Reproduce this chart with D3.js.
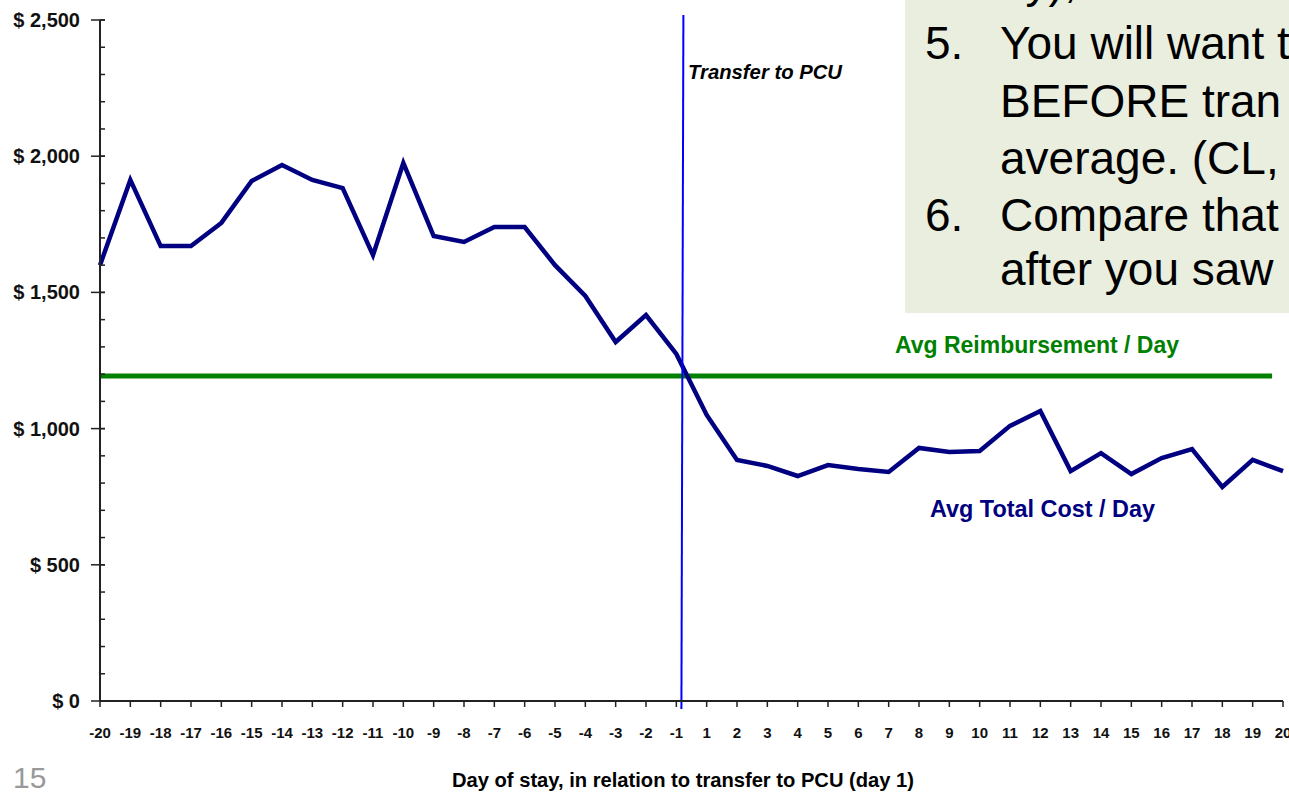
<!DOCTYPE html>
<html>
<head>
<meta charset="utf-8">
<script src="https://cdn.jsdelivr.net/npm/d3@7"></script>
<style>
  html, body { margin: 0; padding: 0; background: #fff; }
  svg { display: block; }
  text { font-family: "Liberation Sans", Arial, sans-serif; }
</style>
</head>
<body>
<svg id="chart" width="1289" height="794"></svg>
<script>
// ---- data ----
const days = ["-20","-19","-18","-17","-16","-15","-14","-13","-12","-11","-10","-9","-8","-7","-6","-5","-4","-3","-2","-1",
              "1","2","3","4","5","6","7","8","9","10","11","12","13","14","15","16","17","18","19","20"];
const avgTotalCost = [1600,1913,1670,1670,1755,1909,1968,1913,1883,1637,1975,1707,1685,1740,1740,1600,1487,1318,1417,1274,
                      1050,885,863,826,866,852,841,929,914,918,1010,1065,844,910,833,892,925,786,885,844];
const avgReimbursement = 1193;
const yTicks = [0,500,1000,1500,2000,2500];
const yMinorTicks = d3.range(0, 2501, 100);
const noteNums = ["", "5.", "", "", "6.", ""];
const noteTexts = ["by),", "You will want t", "BEFORE tran", "average. (CL,", "Compare that", "after you saw"];

// ---- layout ----
const svg = d3.select("#chart");
const x = d3.scalePoint().domain(days).range([100, 1283]);
const y = d3.scaleLinear().domain([0, 2500]).range([701, 20]);
const step = x.step();

// text box (slide note)
svg.append("rect").attr("x", 905).attr("y", 0).attr("width", 400).attr("height", 313).attr("fill", "#EAEEDF");
const noteBase = [-3, 59, 117, 174, 231, 285];
noteTexts.forEach((t, i) => {
  if (noteNums[i]) svg.append("text").attr("x", 925).attr("y", noteBase[i]).attr("font-size", 46).attr("fill", "#000").text(noteNums[i]);
  svg.append("text").attr("x", 1000).attr("y", noteBase[i]).attr("font-size", 46).attr("fill", "#000").text(t);
});

// reimbursement line
svg.append("line")
  .attr("x1", x(days[0])).attr("x2", x(days[days.length-1]) - 0.36*step)
  .attr("y1", y(avgReimbursement)).attr("y2", y(avgReimbursement))
  .attr("stroke", "#008000").attr("stroke-width", 5);

// cost line
const line = d3.line().x((d, i) => x(days[i])).y(d => y(d));
svg.append("path").datum(avgTotalCost).attr("d", line)
  .attr("fill", "none").attr("stroke", "#000080").attr("stroke-width", 4.5).attr("stroke-linejoin", "miter");

// transfer line
const tx = x("-1") + 0.2*step;
svg.append("line").attr("x1", tx + 1).attr("x2", tx - 1).attr("y1", y(2500) - 5).attr("y2", 709)
  .attr("stroke", "#0000FF").attr("stroke-width", 2);

// y axis
const yAxisG = svg.append("g").attr("transform", "translate(100,0)");
yAxisG.append("line").attr("x1", 0).attr("x2", 0).attr("y1", y(2500)).attr("y2", y(0)).attr("stroke", "#222").attr("stroke-width", 2);
yAxisG.selectAll("line.minor").data(yMinorTicks).enter().append("line").attr("class", "minor")
  .attr("x1", 0).attr("x2", 5).attr("y1", d => y(d)).attr("y2", d => y(d)).attr("stroke", "#222").attr("stroke-width", 1.5);
yAxisG.selectAll("line.major").data(yTicks).enter().append("line").attr("class", "major")
  .attr("x1", -9).attr("x2", 5).attr("y1", d => y(d)).attr("y2", d => y(d)).attr("stroke", "#222").attr("stroke-width", 1.5);
const fmt = d => "$ " + d3.format(",")(d);
yAxisG.selectAll("text").data(yTicks).enter().append("text")
  .attr("x", -20).attr("y", d => y(d) + 7).attr("text-anchor", "end")
  .attr("font-size", 20).attr("font-weight", "bold").attr("fill", "#111").text(fmt);

// x axis
const xAxisG = svg.append("g").attr("transform", "translate(0,701)");
xAxisG.append("line").attr("x1", x(days[0])).attr("x2", x(days[days.length-1])).attr("y1", 0).attr("y2", 0).attr("stroke", "#222").attr("stroke-width", 2);
xAxisG.selectAll("line.t").data(days).enter().append("line").attr("class", "t")
  .attr("x1", d => x(d)).attr("x2", d => x(d)).attr("y1", 0).attr("y2", 6).attr("stroke", "#222").attr("stroke-width", 1.5);
xAxisG.selectAll("text").data(days).enter().append("text")
  .attr("x", d => x(d)).attr("y", 37).attr("text-anchor", "middle")
  .attr("font-size", 15).attr("font-weight", "bold").attr("fill", "#111").text(d => d);

// labels
svg.append("text").attr("x", 688).attr("y", 79).attr("font-size", 20).attr("font-weight", "bold").attr("font-style", "italic")
  .attr("textLength", 154).attr("lengthAdjust", "spacingAndGlyphs").attr("fill", "#000").text("Transfer to PCU");
svg.append("text").attr("x", 895).attr("y", 353).attr("font-size", 24).attr("font-weight", "bold")
  .attr("textLength", 284).attr("lengthAdjust", "spacingAndGlyphs").attr("fill", "#008000").text("Avg Reimbursement / Day");
svg.append("text").attr("x", 930).attr("y", 517).attr("font-size", 24).attr("font-weight", "bold")
  .attr("textLength", 225).attr("lengthAdjust", "spacingAndGlyphs").attr("fill", "#000080").text("Avg Total Cost / Day");
svg.append("text").attr("x", 683).attr("y", 787).attr("text-anchor", "middle").attr("font-size", 20).attr("font-weight", "bold")
  .attr("textLength", 462).attr("lengthAdjust", "spacingAndGlyphs").attr("fill", "#000").text("Day of stay, in relation to transfer to PCU (day 1)");
svg.append("text").attr("x", 13).attr("y", 788).attr("font-size", 30).attr("fill", "#999").text("15");
</script>
</body>
</html>
